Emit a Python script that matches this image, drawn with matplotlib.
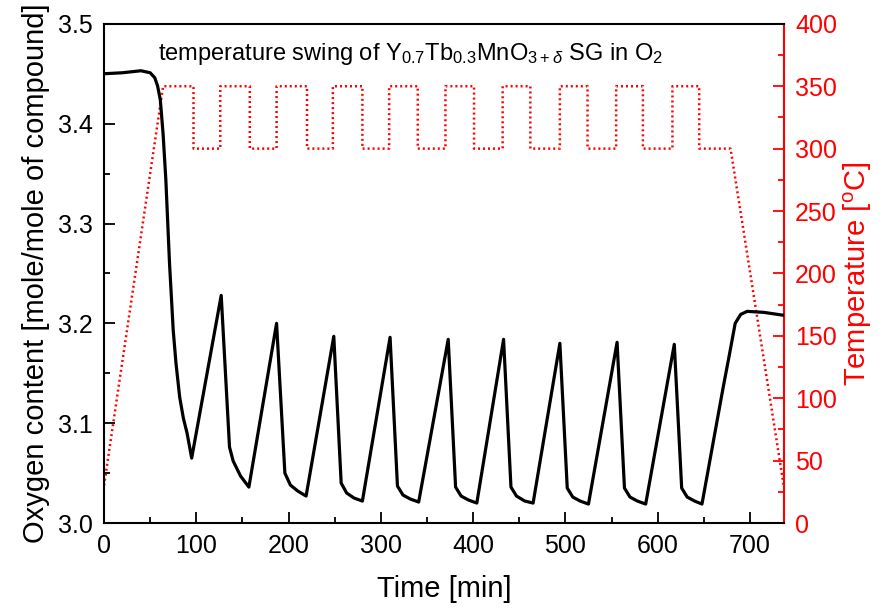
import matplotlib.pyplot as plt
from matplotlib.ticker import MultipleLocator

# oxygen content (time in min)
oxy_time = [0, 20, 40, 50, 55, 58, 61, 64, 67, 71, 75, 78, 82, 86, 90, 95,
            127, 136, 140, 148, 157,
            187, 196, 202, 210, 219,
            249, 257, 263, 271, 280,
            310, 318, 324, 332, 341,
            373, 381, 387, 395, 404,
            433, 441, 447, 456, 465,
            494, 502, 508, 516, 525,
            556, 564, 570, 578, 587,
            618, 626, 632, 640, 648,
            671, 678, 684, 690, 697, 715, 737]
oxy_value = [3.450, 3.451, 3.453, 3.451, 3.446, 3.438, 3.424, 3.390, 3.344, 3.260, 3.193, 3.160, 3.126, 3.105, 3.090, 3.065,
             3.228, 3.076, 3.062, 3.047, 3.036,
             3.200, 3.050, 3.038, 3.032, 3.027,
             3.187, 3.040, 3.030, 3.025, 3.022,
             3.186, 3.037, 3.028, 3.024, 3.021,
             3.184, 3.036, 3.027, 3.023, 3.020,
             3.184, 3.036, 3.027, 3.022, 3.020,
             3.180, 3.035, 3.026, 3.022, 3.019,
             3.181, 3.035, 3.026, 3.022, 3.019,
             3.179, 3.035, 3.026, 3.022, 3.019,
             3.136, 3.170, 3.200, 3.209, 3.212, 3.211, 3.208]

# temperature program
temp_time = [0, 64, 97, 97, 126, 126, 158, 158, 187, 187, 220, 220, 248, 248,
             280, 280, 309, 309, 340, 340, 370, 370, 401, 401, 432, 432,
             462, 462, 494, 494, 524, 524, 555, 555, 584, 584, 616, 616,
             645, 645, 679, 737]
temp_value = [30, 350, 350, 300, 300, 350, 350, 300, 300, 350, 350, 300, 300, 350,
              350, 300, 300, 350, 350, 300, 300, 350, 350, 300, 300, 350,
              350, 300, 300, 350, 350, 300, 300, 350, 350, 300, 300, 350,
              350, 300, 300, 28]

plt.rcParams["font.family"] = ["Liberation Sans", "DejaVu Sans"]
plt.rcParams["mathtext.fontset"] = "custom"
plt.rcParams["mathtext.rm"] = "Liberation Sans"
plt.rcParams["mathtext.it"] = "Liberation Sans:italic"
plt.rcParams["mathtext.sf"] = "Liberation Sans"

fig = plt.figure(figsize=(8.89, 6.11), dpi=100)
ax = fig.add_axes([0.117, 0.144, 0.765, 0.817])
ax2 = ax.twinx()

ax.plot(oxy_time, oxy_value, color="black", lw=2.3, zorder=3)
ax2.plot(temp_time, temp_value, color="red", lw=1.8, linestyle=(0, (0.8, 1.2)))

ax.set_zorder(ax2.get_zorder() + 1)
ax.patch.set_visible(False)

ax.set_xlim(0, 737)
ax.set_ylim(3.0, 3.5)
ax2.set_ylim(0, 400)

ax.xaxis.set_major_locator(MultipleLocator(100))
ax.xaxis.set_minor_locator(MultipleLocator(50))
ax.yaxis.set_major_locator(MultipleLocator(0.1))
ax.yaxis.set_minor_locator(MultipleLocator(0.05))
ax2.yaxis.set_major_locator(MultipleLocator(50))
ax2.yaxis.set_minor_locator(MultipleLocator(25))

ax.tick_params(which="both", direction="in", width=1.3, labelsize=18, pad=8, top=False, right=False)
ax.tick_params(which="major", length=8)
ax.tick_params(which="minor", length=4)
ax2.tick_params(which="both", direction="in", width=1.3, labelsize=18, pad=8, colors="red")
ax2.tick_params(which="major", length=8)
ax2.tick_params(which="minor", length=4)
ax.set_yticklabels([f"{v:.1f}" for v in ax.get_yticks()])

for s in ax.spines.values():
    s.set_linewidth(1.5)
ax.spines["right"].set_visible(False)
for name, s in ax2.spines.items():
    s.set_visible(name == "right")
ax2.spines["right"].set_color("red")
ax2.spines["right"].set_linewidth(1.5)

ax.set_xlabel("Time [min]", fontsize=21, labelpad=12)
ax.set_ylabel("Oxygen content [mole/mole of compound]", fontsize=21, labelpad=6)
ax2.set_ylabel("Temperature [$^{\\mathrm{o}}$C]", fontsize=21, color="red", labelpad=3)

ax.text(0.45, 0.965, "temperature swing of Y$_{0.7}$Tb$_{0.3}$MnO$_{3+\\delta}$ SG in O$_2$",
        transform=ax.transAxes, ha="center", va="top", fontsize=17)

fig.savefig("out.png", dpi=100)
plt.close()
